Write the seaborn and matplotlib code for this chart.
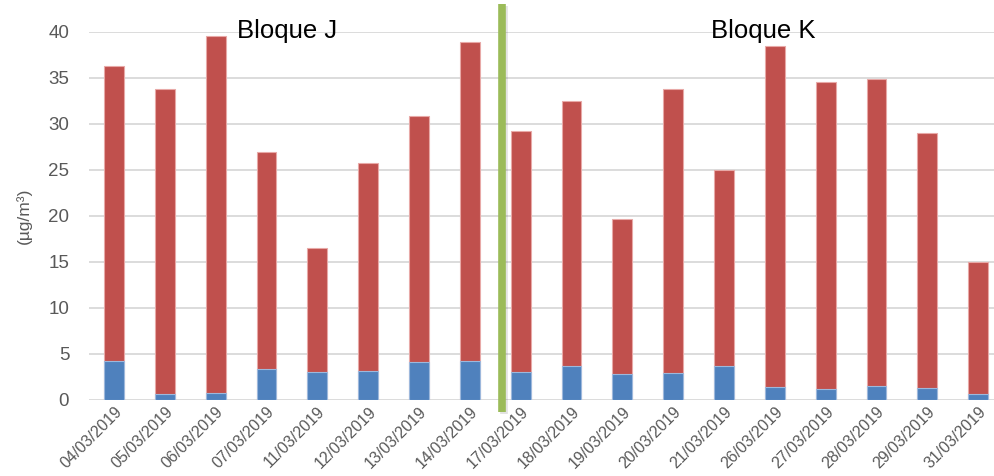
import matplotlib
matplotlib.use("Agg")
import matplotlib.pyplot as plt
import matplotlib.patheffects as pe
import seaborn as sns
import pandas as pd

# Sampling dates and the two stacked components (µg/m³)
dates = ["04/03/2019", "05/03/2019", "06/03/2019", "07/03/2019", "11/03/2019",
         "12/03/2019", "13/03/2019", "14/03/2019", "17/03/2019", "18/03/2019",
         "19/03/2019", "20/03/2019", "21/03/2019", "26/03/2019", "27/03/2019",
         "28/03/2019", "29/03/2019", "31/03/2019"]
blue_part = [4.2, 0.7, 0.8, 3.4, 3.0, 3.1, 4.1, 4.2, 3.0, 3.7,
             2.8, 2.9, 3.7, 1.4, 1.2, 1.5, 1.3, 0.6]
red_part = [32.1, 33.1, 38.8, 23.6, 13.5, 22.7, 26.8, 34.7, 26.2, 28.8,
            16.9, 30.9, 21.3, 37.1, 33.4, 33.4, 27.7, 14.4]
block_labels = ["Bloque J", "Bloque K"]
yticks = [0, 5, 10, 15, 20, 25, 30, 35, 40]

df = pd.DataFrame({"fecha": dates, "blue": blue_part, "red": red_part})
df["total"] = df["blue"] + df["red"]

sns.set_theme(style="white")
plt.rcParams["font.family"] = ["Liberation Sans", "DejaVu Sans"]

RED = "#C0504D"
BLUE = "#4F81BD"
GREY = "#595959"

fig = plt.figure(figsize=(9.94, 4.76), dpi=100)
ax = fig.add_axes([0.0892, 0.1597, 0.9205, 0.7731])

ax.yaxis.grid(True, color="#D9D9D9", linewidth=1.3)
ax.set_axisbelow(True)

sns.barplot(data=df, x="fecha", y="total", color=RED, width=0.39,
            saturation=1, edgecolor="#E8A9A7", linewidth=0.8, ax=ax)
sns.barplot(data=df, x="fecha", y="blue", color=BLUE, width=0.39,
            saturation=1, edgecolor="#9DB8DC", linewidth=0.8, ax=ax)

n = len(dates)
ax.set_xlim(-0.5, n - 0.5)
ax.set_ylim(0, 40)
ax.set_yticks(yticks)
ax.set_yticklabels([str(t) for t in yticks], fontsize=13.5, color=GREY)
ax.tick_params(axis="y", length=0, pad=14)
ax.tick_params(axis="x", length=0, pad=3)
ax.set_xticks(range(n))
ax.set_xticklabels(dates, rotation=45, ha="right", rotation_mode="anchor",
                   fontsize=11.5, color=GREY)
ax.set_xlabel("")
ax.set_ylabel("(µg/m³)", fontsize=12.5, color=GREY, labelpad=12)
for s in ax.spines.values():
    s.set_visible(False)

# Divider between the two blocks
split = dates.index("17/03/2019") - 0.36
ax.plot([split, split], [-1.3, 43.0], color="#9BBB59", linewidth=5.5,
        solid_capstyle="butt", clip_on=False, zorder=5,
        path_effects=[pe.SimpleLineShadow(offset=(1.2, -1.2), alpha=0.12),
                      pe.Normal()])

ax.text(3.41, 40.1, block_labels[0], fontsize=18.5, color="black",
        ha="center", va="center", clip_on=False)
ax.text(12.78, 40.1, block_labels[1], fontsize=18.5, color="black",
        ha="center", va="center", clip_on=False)

fig.savefig("out.png", dpi=100)
